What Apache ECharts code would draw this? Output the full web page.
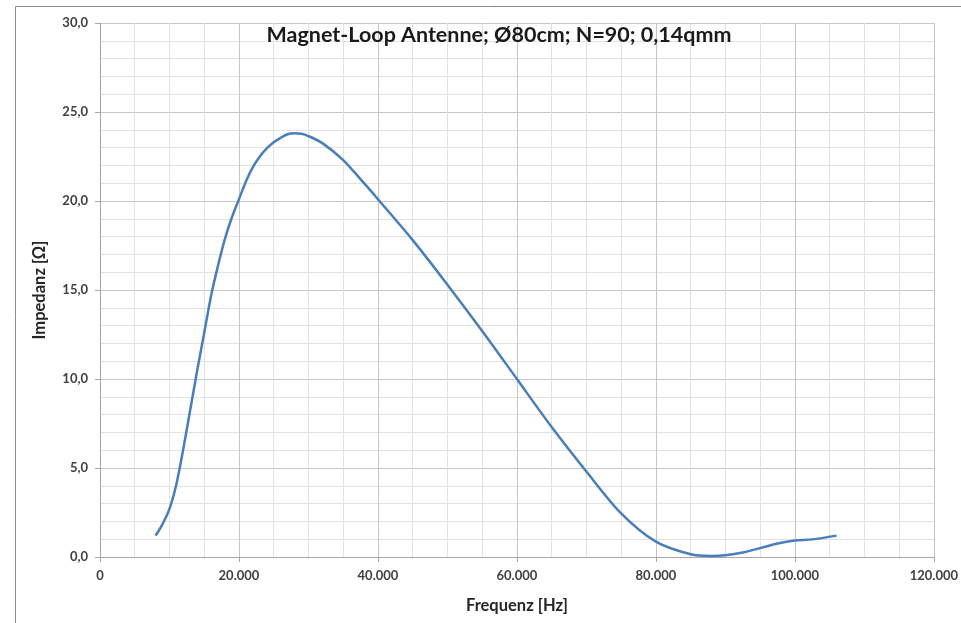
<!DOCTYPE html>
<html>
<head>
<meta charset="utf-8">
<script src="https://cdn.jsdelivr.net/npm/echarts@6/dist/echarts.min.js"></script>
<style>
  html, body { margin: 0; padding: 0; background: #fff; }
  #chart { width: 961px; height: 623px; }
</style>
</head>
<body>
<div id="chart"></div>
<script>
const frequencies = [8000, 9000, 10000, 11000, 12000, 13000, 14000, 15000, 16000, 17000,
  18000, 19000, 20000, 21000, 22000, 23000, 24000, 25000, 26000, 27000,
  28000, 29000, 30000, 32000, 35000, 38000, 40000, 45000, 50000, 55000,
  60000, 65000, 70000, 75000, 80000, 85000, 88000, 90000, 92500, 95000,
  97500, 100000, 102500, 106000]
const impedance = [1.2, 1.85, 2.7, 4.1, 6.1, 8.3, 10.5, 12.6, 14.7, 16.4,
  17.9, 19.1, 20.1, 21.1, 21.9, 22.5, 22.95, 23.3, 23.55, 23.75,
  23.8, 23.78, 23.65, 23.25, 22.3, 21.0, 20.1, 17.8, 15.3, 12.7,
  10.0, 7.3, 4.8, 2.45, 0.86, 0.15, 0.06, 0.1, 0.25, 0.5,
  0.76, 0.93, 0.99, 1.2]

const titleText = 'Magnet-Loop Antenne; Ø80cm; N=90; 0,14qmm'
const xName = 'Frequenz [Hz]'
const yName = 'Impedanz [Ω]'

const font = 'Lato, "Open Sans", sans-serif'

function fmtX(v) {
  return String(v).replace(/\B(?=(\d{3})+(?!\d))/g, '.')
}
function fmtY(v) {
  return v.toFixed(1).replace('.', ',')
}

const chart = echarts.init(document.getElementById('chart'))
chart.setOption({
  animation: false,
  title: {
    text: titleText,
    left: 494,
    top: 19,
    textAlign: 'center',
    textStyle: { fontFamily: font, fontSize: 21.5, fontWeight: 'bold', color: '#1a1a1a' }
  },
  graphic: [
    {
      type: 'rect',
      shape: { x: 15.5, y: 6.5, width: 1000, height: 700 },
      style: { fill: 'none', stroke: '#8c8c8c', lineWidth: 1 },
      silent: true
    }
  ],
  grid: { left: 100, right: 26, top: 23, bottom: 66 },
  xAxis: {
    type: 'value',
    min: 0,
    max: 120000,
    interval: 20000,
    name: xName,
    nameLocation: 'middle',
    nameGap: 40,
    nameTextStyle: { fontFamily: font, fontSize: 16.5, fontWeight: 'bold', color: '#262626' },
    axisLine: { show: true, lineStyle: { color: '#a6a6a6' } },
    axisTick: { show: true, length: 5, lineStyle: { color: '#a6a6a6' } },
    axisLabel: { fontFamily: font, fontSize: 13, fontWeight: 'bold', color: '#404040', margin: 12, formatter: fmtX },
    splitLine: { show: true, lineStyle: { color: '#c6c6c6' } },
    minorTick: { show: false, splitNumber: 4 },
    minorSplitLine: { show: true, lineStyle: { color: '#e2e2e2' } }
  },
  yAxis: {
    type: 'value',
    min: 0,
    max: 30,
    interval: 5,
    name: yName,
    nameLocation: 'middle',
    nameGap: 52,
    nameTextStyle: { fontFamily: font, fontSize: 16.5, fontWeight: 'bold', color: '#262626' },
    axisLine: { show: true, lineStyle: { color: '#a6a6a6' } },
    axisTick: { show: true, length: 5, lineStyle: { color: '#a6a6a6' } },
    axisLabel: { fontFamily: font, fontSize: 13, fontWeight: 'bold', color: '#404040', margin: 12, formatter: fmtY },
    splitLine: { show: true, lineStyle: { color: '#c6c6c6' } },
    minorTick: { show: false, splitNumber: 5 },
    minorSplitLine: { show: true, lineStyle: { color: '#e2e2e2' } }
  },
  series: [
    {
      type: 'line',
      data: frequencies.map((f, i) => [f, impedance[i]]),
      smooth: 0.3,
      symbol: 'none',
      lineStyle: { color: '#4a7ebb', width: 2.5 }
    }
  ]
})
</script>
</body>
</html>
